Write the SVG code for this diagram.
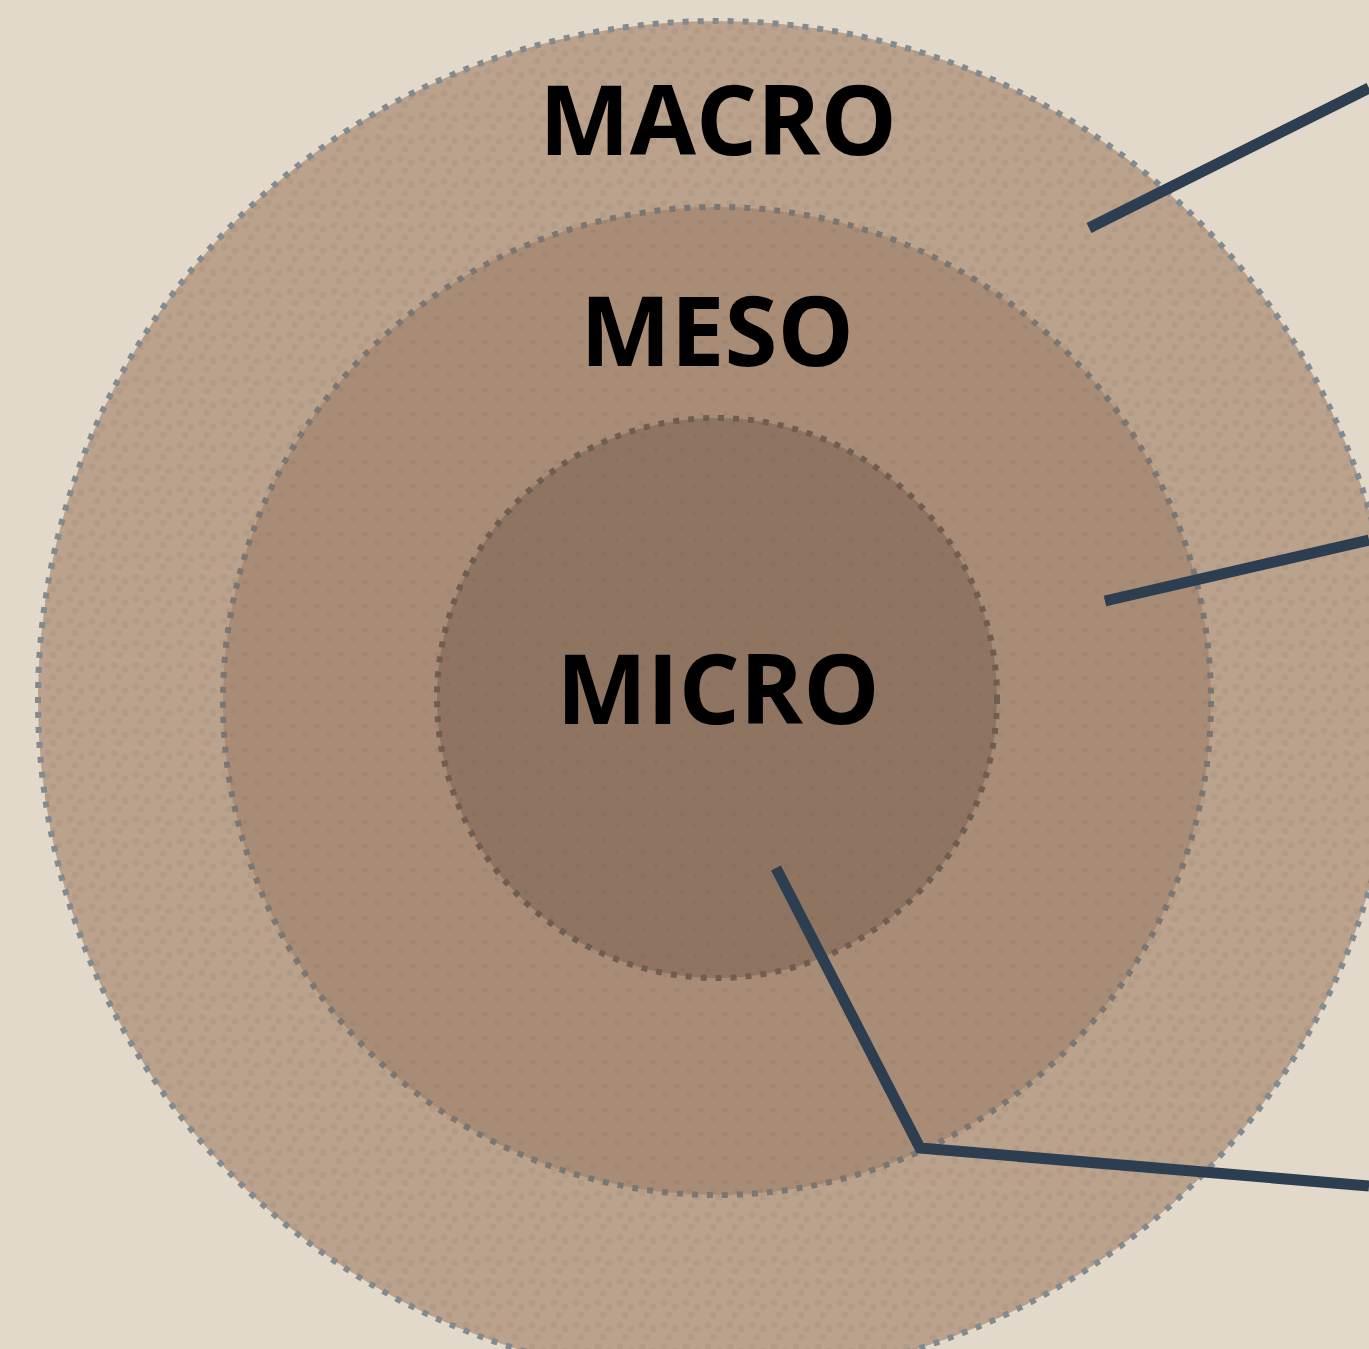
<svg xmlns="http://www.w3.org/2000/svg" width="1369" height="1349" viewBox="0 0 1369 1349">
<style>
.lbl{font-family:"Open Sans","Liberation Sans",sans-serif;font-weight:700;font-size:96px;fill:#000;text-anchor:middle}
.ring{stroke-width:6;stroke-dasharray:6 9}
.conn{fill:none;stroke:#2c3e50;stroke-width:11;stroke-linejoin:miter}
</style>
<defs>
<pattern id="dotsA" width="22" height="22" patternUnits="userSpaceOnUse">
<circle cx="4" cy="5" r="3.5" fill="#ad937d" opacity="0.5"/>
<circle cx="15" cy="9" r="3.5" fill="#ad937d" opacity="0.5"/>
<circle cx="9" cy="17" r="3.5" fill="#ad937d" opacity="0.5"/>
</pattern>
<pattern id="dotsB" width="24" height="24" patternUnits="userSpaceOnUse">
<circle cx="5" cy="6" r="2.5" fill="#9c806a" opacity="0.5"/>
<circle cx="17" cy="15" r="2.5" fill="#9c806a" opacity="0.5"/>
</pattern>
<pattern id="dotsC" width="26" height="26" patternUnits="userSpaceOnUse">
<circle cx="6" cy="8" r="2" fill="#85695a" opacity="0.5"/>
<circle cx="19" cy="19" r="2" fill="#85695a" opacity="0.5"/>
</pattern>
</defs>
<rect width="1369" height="1349" fill="#e2d9ca"/>
<g id="macro">
<circle cx="717" cy="700" r="679" fill="#bba28c"/>
<circle cx="717" cy="700" r="679" fill="url(#dotsA)" class="ring" stroke="#838a8e"/>
<text class="lbl" x="718" y="155">MACRO</text>
</g>
<g id="meso">
<circle cx="717" cy="701" r="494" fill="#a88c75"/>
<circle cx="717" cy="701" r="494" fill="url(#dotsB)" class="ring" stroke="#7c7672"/>
<text class="lbl" x="717" y="366">MESO</text>
</g>
<g id="micro">
<circle cx="717" cy="698" r="280" fill="#8f7561"/>
<circle cx="717" cy="698" r="280" fill="url(#dotsC)" class="ring" stroke="#6f5e50"/>
<text class="lbl" x="718" y="724">MICRO</text>
</g>
<g id="connectors">
<polyline class="conn" points="1089,228 1369,88"/>
<polyline class="conn" points="1105,601 1369,540"/>
<polyline class="conn" points="776,868 920,1148 1369,1186"/>
</g>
</svg>
